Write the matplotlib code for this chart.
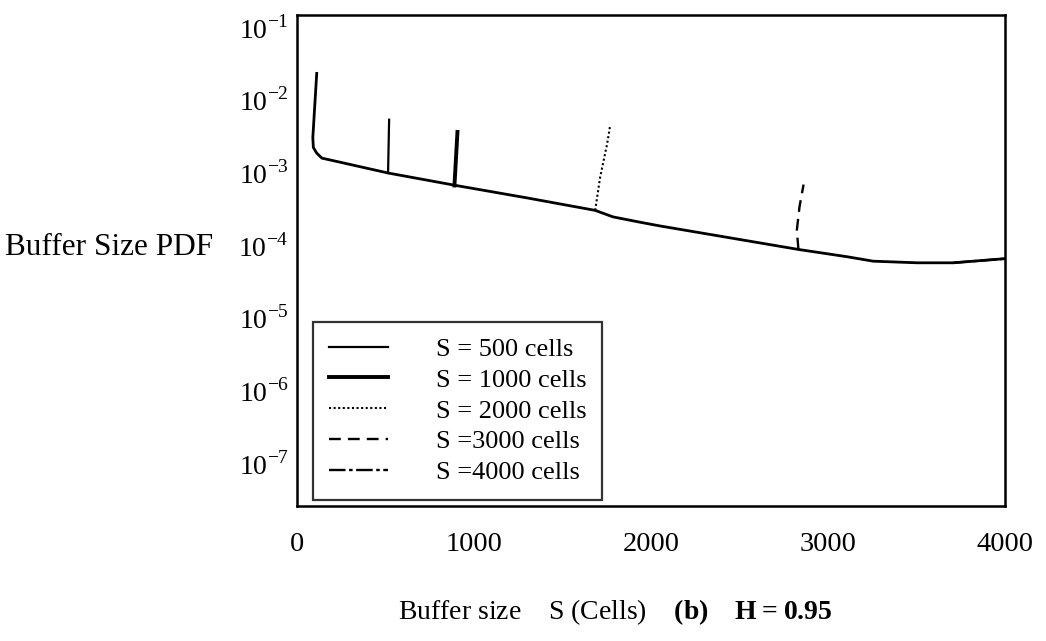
import matplotlib
matplotlib.use("Agg")
import matplotlib.pyplot as plt

plt.rcParams['font.family'] = ['Liberation Serif', 'DejaVu Serif']
plt.rcParams['mathtext.fontset'] = 'custom'
plt.rcParams['mathtext.rm'] = 'Liberation Serif'
plt.rcParams['mathtext.bf'] = 'Liberation Serif:bold'

# shared decay of the buffer size PDF
base_x = [111, 89, 92, 111, 140, 243, 514, 898, 1300, 1684, 1785, 1938,
          2051, 2832, 3108, 3254, 3503, 3706, 4000]
base_y = [2.3e-2, 3.0e-3, 2.2e-3, 1.84e-3, 1.57e-3, 1.38e-3, 9.8e-4, 6.6e-4,
          4.45e-4, 3.0e-4, 2.44e-4, 2.06e-4, 1.83e-4, 8.7e-5, 6.9e-5, 6.0e-5,
          5.7e-5, 5.7e-5, 6.5e-5]

# end-of-buffer spikes, one per buffer size
s500_x = [514, 520]
s500_y = [9.8e-4, 5.3e-3]
s1000_x = [889, 906]
s1000_y = [6.6e-4, 3.6e-3]
s2000_x = [1684, 1712, 1752, 1768]
s2000_y = [3.0e-4, 8.6e-4, 2.5e-3, 4.35e-3]
s3000_x = [2832, 2823, 2838, 2861]
s3000_y = [8.7e-5, 1.6e-4, 3.35e-4, 6.8e-4]
s4000_x = [3706, 4000]
s4000_y = [5.7e-5, 6.5e-5]

labels = ['S = 500 cells', 'S = 1000 cells', 'S = 2000 cells',
          'S =3000 cells', 'S =4000 cells']
x_ticks = [0, 1000, 2000, 3000, 4000]
y_exps = [-1, -2, -3, -4, -5, -6, -7]

fig = plt.figure(figsize=(10.46, 6.41), dpi=100)
ax = fig.add_axes([0.284, 0.2106, 0.677, 0.766])

ax.plot(base_x, base_y, color='black', lw=2.0, solid_joinstyle='round')
ax.plot(s500_x, s500_y, color='black', lw=1.6, label=labels[0])
ax.plot(s1000_x, s1000_y, color='black', lw=2.8, label=labels[1])
ax.plot(s2000_x, s2000_y, color='black', lw=1.5, ls=(0, (1, 1.2)),
        label=labels[2])
ax.plot(s3000_x, s3000_y, color='black', lw=1.7, ls=(0, (5, 3)),
        label=labels[3])
ax.plot(s4000_x, s4000_y, color='black', lw=1.7, ls=(0, (7, 1.5, 1.5, 1.5)),
        label=labels[4])

ax.set_yscale('log')
ax.set_xlim(0, 4000)
ax.set_ylim(10 ** -7.59, 10 ** -0.835)
ax.set_xticks(x_ticks)
ax.set_xticklabels([str(t) for t in x_ticks])
ax.set_yticks([10.0 ** e for e in y_exps])
ax.set_yticklabels(['10$^{%d}$' % e for e in y_exps])
ax.minorticks_off()
ax.tick_params(axis='x', length=0, pad=19, labelsize=20.5)
ax.tick_params(axis='y', length=0, pad=6, labelsize=20)
for sp in ax.spines.values():
    sp.set_linewidth(1.8)

ax.set_ylabel('Buffer Size PDF', rotation=0, fontsize=22.5, ha='right',
              va='center')
ax.yaxis.set_label_coords(-0.119, 0.527)
ax.set_xlabel(r'Buffer size    S (Cells)    $\mathbf{(b)\ \ \ H = 0.95}$',
              fontsize=20, va='center')
ax.xaxis.set_label_coords(0.449, -0.216)

leg = ax.legend(loc='lower left', bbox_to_anchor=(0.0226, 0.012),
                fontsize=19, frameon=True, fancybox=False, edgecolor='black',
                handlelength=2.25, handletextpad=1.8, borderpad=0.6,
                labelspacing=0.28, borderaxespad=0)
leg.get_frame().set_linewidth(1.6)

fig.savefig('out.png', dpi=100)
